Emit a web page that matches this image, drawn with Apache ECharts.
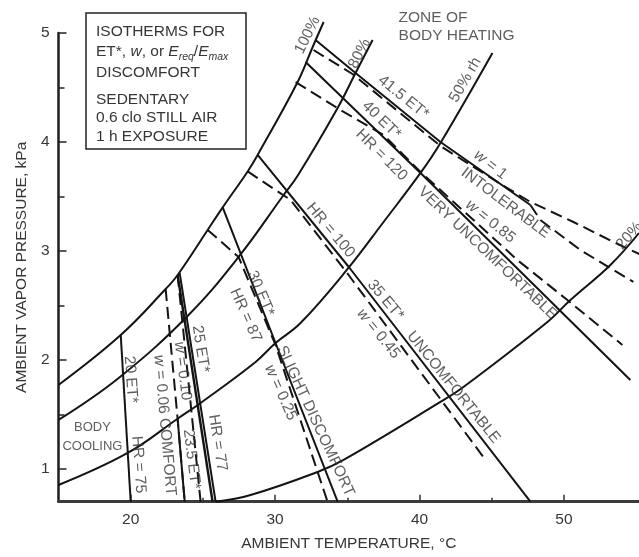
<!DOCTYPE html>
<html><head><meta charset="utf-8">
<script src="https://cdn.jsdelivr.net/npm/echarts@6/dist/echarts.min.js"></script>
<style>html,body{margin:0;padding:0;background:#fff}#c{width:639px;height:557px}</style>
</head><body><div id="c"></div>
<script>
// ---- tick values ----
const xMajorTicks = [20, 30, 40, 50];
const xMinorTicks = [25, 35, 45];
const yMajorTicks = [1, 2, 3, 4, 5];
const yMinorTicks = [1.5, 2.5, 3.5, 4.5];

// ---- relative humidity curves [T °C, p kPa] ----
const rh100 = [[15.0,1.771],[19.31,2.229],[22.42,2.651],[23.25,2.78],[25.33,3.193],[26.37,3.40],[28.10,3.73],[28.79,3.881],[31.56,4.550],[32.66,4.890],[33.36,5.101]];
const rh80  = [[15.0,1.450],[19.17,1.835],[23.94,2.404],[27.47,2.945],[30.59,3.514],[31.56,3.69],[34.33,4.312],[35.57,4.633],[36.75,4.936]];
const rh50  = [[15.0,0.853],[19.79,1.147],[23.32,1.468],[24.84,1.606],[28.65,1.982],[30.03,2.156],[31.76,2.339],[35.02,2.835],[37.51,3.266],[40.07,3.716],[41.45,3.991],[45.05,4.817]];
const rh20  = [[25.88,0.70],[28.30,0.761],[32.94,0.972],[34.74,1.083],[41.45,1.615],[43.04,1.752],[48.86,2.349],[50.45,2.550],[53.22,2.872],[55.2,3.165]];

// ---- ET* / HR isotherms (solid) ----
const et20   = [[19.31,2.229],[20.0,0.70]];
const et23_5 = [[23.25,1.459],[23.74,0.70]];
const et25   = [[23.25,2.78],[25.67,0.70]];
const hr77   = [[23.39,2.80],[25.88,0.70]];
const et30   = [[26.37,3.40],[30.03,2.156],[34.33,0.70]];
const et35   = [[28.79,3.881],[35.16,2.844],[47.68,0.70]];
const et40   = [[32.11,4.734],[40.07,3.716],[54.6,1.817]];
const et41_5 = [[32.80,4.936],[35.57,4.633],[41.45,4.0],[47.68,3.422]];

// ---- skin wettedness w lines (dashed) ----
const w006 = [[22.42,2.651],[23.25,1.459],[23.74,0.70]];
const w010 = [[23.25,2.78],[24.84,0.70]];
const w025 = [[25.33,3.193],[27.47,2.945],[30.03,2.138],[33.63,0.70]];
const w045 = [[28.10,3.73],[31.07,3.468],[35.09,2.780],[44.57,1.083]];
const w085 = [[31.42,4.55],[34.53,4.294],[37.51,4.064],[40.07,3.725],[43.74,3.284],[46.78,2.917],[50.24,2.55],[54.05,2.138]];
const w1   = [[32.66,4.844],[35.36,4.624],[41.45,3.963],[45.61,3.615],[47.68,3.45],[50.66,3.266],[53.43,3.083],[55.22,2.972]];
const w1b  = [[47.68,3.422],[48.37,3.284],[51.14,3.009],[54.81,2.716]];

// ---- annotation texts: [T, p, text, angle] ----
const annotations = [
  [32.25,4.98,'100%',64],
  [35.85,4.81,'80%',63],
  [43.18,4.57,'50% rh',60],
  [54.53,3.14,'20%',48],
  [38.89,4.41,'41.5 ET*',-39],
  [37.37,4.20,'40 ET*',-44],
  [37.37,3.88,'HR = 120',-45],
  [44.91,3.79,'{i|w} = 1',-38],
  [45.95,3.44,'INTOLERABLE',-37],
  [44.91,3.27,'{i|w} = 0.85',-39],
  [44.71,2.98,'VERY UNCOMFORTABLE',-43.5],
  [33.84,3.19,'HR = 100',-50],
  [37.65,2.55,'35 ET*',-50],
  [37.16,2.24,'{i|w} = 0.45',-51],
  [42.35,1.75,'UNCOMFORTABLE',-51],
  [29.0,2.61,'30 ET*',-67],
  [27.96,2.41,'HR = 87',-66],
  [32.80,1.44,'SLIGHT DISCOMFORT',-65],
  [30.38,1.70,'{i|w} = 0.25',-66],
  [24.84,2.10,'25 ET*',-81],
  [23.6,1.90,'{i|w} = 0.10',-83],
  [22.35,1.40,'{i|w} = 0.06 COMFORT',-85],
  [24.22,1.09,'23.5 ET*',-83],
  [26.02,1.24,'HR = 77',-81],
  [20.0,1.82,'20 ET*',-86],
  [20.55,1.04,'HR = 75',-86]
];

const FONT = '"Liberation Sans", Arial, Helvetica, sans-serif';
const TXT = '#363636';
const LINE = '#141414';
const FS = 15.5;

function lineSeries(data, dashed, width, smooth) {
  return {
    type: 'line', data: data, symbol: 'none', clip: false, silent: true,
    smooth: smooth ? 0.4 : false,
    lineStyle: { color: LINE, width: width || 2, type: dashed ? [12, 6] : 'solid', cap: 'butt' },
    z: 3
  };
}

const series = [
  lineSeries(rh100, false, 2, true),
  lineSeries(rh80, false, 2, true),
  lineSeries(rh50, false, 2, true),
  lineSeries(rh20, false, 2, true),
  lineSeries(et20, false, 2),
  lineSeries(et23_5, false, 2),
  lineSeries(et25, false, 2.4),
  lineSeries(hr77, false, 2),
  lineSeries(et30, false, 2),
  lineSeries(et35, false, 2),
  lineSeries(et40, false, 2),
  lineSeries(et41_5, false, 2),
  lineSeries(w006, true, 2),
  lineSeries(w010, true, 2),
  lineSeries(w025, true, 2),
  lineSeries(w045, true, 2),
  lineSeries(w085, true, 2),
  lineSeries(w1, true, 2),
  lineSeries(w1b, true, 2),
  {
    type: 'scatter', symbolSize: 0, clip: false, silent: true, z: 6,
    label: {
      show: true, position: 'inside', color: TXT, fontSize: FS, fontFamily: FONT,
      rich: { i: { fontStyle: 'italic', fontSize: FS, fontFamily: FONT, color: TXT } }
    },
    data: annotations.map(a => ({ value: [a[0], a[1]], label: { formatter: a[2], rotate: a[3] } }))
      .concat([
        { value: [17.35, 1.29], label: { formatter: 'BODY\nCOOLING', rotate: 0, lineHeight: 19, fontSize: 13 } },
        { value: [38.55, 5.06], label: { formatter: 'ZONE OF\nBODY HEATING', rotate: 0, align: 'left', lineHeight: 18 } }
      ])
  }
];

const chart = echarts.init(document.getElementById('c'), null, { renderer: 'canvas' });
chart.setOption({
  animation: false,
  backgroundColor: '#fff',
  textStyle: { fontFamily: FONT },
  grid: { left: 58.5, right: 0, top: 33, bottom: 55.3, containLabel: false },
  xAxis: [{
    type: 'value', min: 15, max: 55.2, position: 'bottom',
    name: 'AMBIENT TEMPERATURE, °C', nameLocation: 'middle', nameGap: 34,
    nameTextStyle: { fontSize: FS, color: TXT, fontFamily: FONT },
    axisLine: { show: true, onZero: false, lineStyle: { color: '#3c3c3c', width: 3 } },
    axisTick: { show: true, inside: true, length: 7, customValues: xMajorTicks, lineStyle: { color: '#333', width: 1.5 } },
    axisLabel: { show: true, customValues: xMajorTicks, margin: 10, fontSize: FS, color: TXT, fontFamily: FONT },
    splitLine: { show: false }
  }, {
    type: 'value', min: 15, max: 55.2, position: 'bottom', gridIndex: 0,
    axisLine: { show: false },
    axisTick: { show: true, inside: true, length: 4, customValues: xMinorTicks, lineStyle: { color: '#333', width: 1.5 } },
    axisLabel: { show: false }, splitLine: { show: false }
  }],
  yAxis: [{
    type: 'value', min: 0.7, max: 5, position: 'left',
    name: 'AMBIENT VAPOR PRESSURE, kPa', nameLocation: 'middle', nameGap: 27,
    nameTextStyle: { fontSize: FS, color: TXT, fontFamily: FONT },
    axisLine: { show: true, onZero: false, lineStyle: { color: '#1e1e1e', width: 2.5 } },
    axisTick: { show: true, inside: true, length: 8, customValues: yMajorTicks, lineStyle: { color: '#222', width: 1.5 } },
    axisLabel: { show: true, customValues: yMajorTicks, margin: 9, fontSize: FS, color: TXT, fontFamily: FONT },
    splitLine: { show: false }
  }, {
    type: 'value', min: 0.7, max: 5, position: 'left', gridIndex: 0,
    axisLine: { show: false },
    axisTick: { show: true, inside: true, length: 6, customValues: yMinorTicks, lineStyle: { color: '#222', width: 1.5 } },
    axisLabel: { show: false }, splitLine: { show: false }
  }],
  graphic: [
    { type: 'rect', z: 20, shape: { x: 86, y: 13, width: 160, height: 136 }, style: { fill: '#fff', stroke: '#222', lineWidth: 1.5 } },
    { type: 'text', z: 21, x: 96, y: 32, style: { text: 'ISOTHERMS FOR', font: FS + 'px ' + FONT, fill: TXT, verticalAlign: 'middle' } },
    { type: 'text', z: 21, x: 96, y: 52, style: {
        text: '{n|ET*, }{i|w}{n|, or }{i|E}{s|req}{n|/}{i|E}{s|max}', verticalAlign: 'middle',
        rich: {
          n: { fontSize: FS, fontFamily: FONT, fill: TXT, lineHeight: 22, verticalAlign: 'middle' },
          i: { fontSize: FS, fontFamily: FONT, fontStyle: 'italic', fill: TXT, lineHeight: 22, verticalAlign: 'middle' },
          s: { fontSize: 10.5, fontFamily: FONT, fontStyle: 'italic', fill: TXT, lineHeight: 11, verticalAlign: 'bottom' }
        } } },
    { type: 'text', z: 21, x: 96, y: 73, style: { text: 'DISCOMFORT', font: FS + 'px ' + FONT, fill: TXT, verticalAlign: 'middle' } },
    { type: 'text', z: 21, x: 96, y: 100, style: { text: 'SEDENTARY', font: FS + 'px ' + FONT, fill: TXT, verticalAlign: 'middle' } },
    { type: 'text', z: 21, x: 96, y: 118, style: { text: '0.6 clo STILL AIR', font: FS + 'px ' + FONT, fill: TXT, verticalAlign: 'middle' } },
    { type: 'text', z: 21, x: 96, y: 137, style: { text: '1 h EXPOSURE', font: FS + 'px ' + FONT, fill: TXT, verticalAlign: 'middle' } }
  ],
  series: series
});
</script>
</body></html>
